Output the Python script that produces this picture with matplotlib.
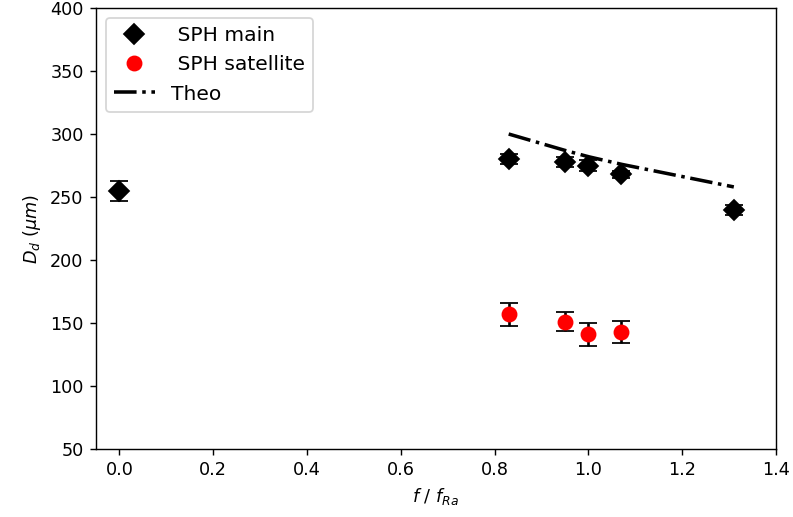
import matplotlib
matplotlib.use('Agg')
import matplotlib.pyplot as plt

# main droplet diameters
f_main = [0.0, 0.83, 0.95, 1.0, 1.07, 1.31]
d_main = [255, 280, 278, 275, 268, 240]
e_main = [8, 4, 4, 4, 3, 4]

# satellite droplet diameters
f_sat = [0.83, 0.95, 1.0, 1.07]
d_sat = [157, 151, 141, 143]
e_sat = [9, 7.5, 9, 8.5]

# theoretical prediction
f_theo = [0.83, 0.95, 1.0, 1.07, 1.31]
d_theo = [300, 287, 282, 276, 258]

dpi = 127
fig = plt.figure(figsize=(793 / dpi, 517 / dpi), dpi=dpi)
ax = fig.add_axes([0.121, 0.1315, 0.8576, 0.853])

ax.errorbar(f_main, d_main, yerr=e_main, fmt='none', ecolor='k', capsize=5)
ax.plot(f_main, d_main, 'kD', markersize=8, label=' SPH main')
ax.errorbar(f_sat, d_sat, yerr=e_sat, fmt='none', ecolor='k', capsize=5)
ax.plot(f_sat, d_sat, 'o', color='red', markersize=8, label=' SPH satellite')
ax.plot(f_theo, d_theo, 'k-.', linewidth=2, label='Theo')

ax.set_xlim(-0.05, 1.4)
ax.set_ylim(50, 400)
ax.set_xlabel(r'$f\ /\ f_{Ra}$')
ax.set_ylabel(r'$D_d\ (\mu m)$')
ax.legend(loc='upper left', fontsize=11.5)

fig.savefig('out.png', dpi=dpi)
